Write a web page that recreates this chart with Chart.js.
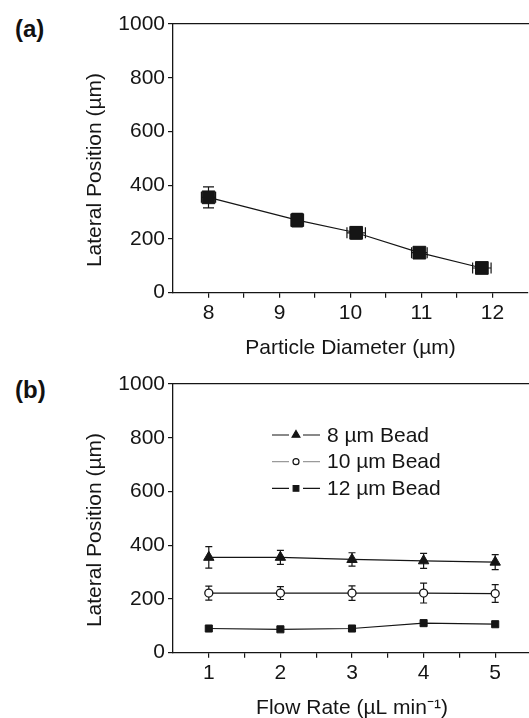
<!DOCTYPE html>
<html lang="en">
<head>
    <meta charset="UTF-8">
    <title>Lateral Position vs Particle Diameter and Flow Rate</title>
    <script src="https://cdn.jsdelivr.net/npm/chart.js"></script>
    <style>
        body {
            margin: 0;
            width: 529px;
            height: 718px;
            overflow: hidden;
            background: #fff;
            position: relative;
            font-family: 'Liberation Sans', Arial, sans-serif;
        }
        canvas {
            position: absolute;
            left: 0;
        }
        #chartA { top: 0; }
        #chartB { top: 360px; }
        .tag {
            position: absolute;
            left: 15px;
            font-weight: bold;
            font-size: 24px;
            line-height: 24px;
            color: #111;
        }
    </style>
</head>
<body>

    <div class="tag" style="top: 17px;">(a)</div>
    <div class="tag" style="top: 378px;">(b)</div>
    <canvas id="chartA" width="538" height="365"></canvas>
    <canvas id="chartB" width="538" height="365"></canvas>

    <script>
        // panel (a): lateral position vs particle diameter
        const diameters = [8.0, 9.25, 10.08, 10.97, 11.85];
        const diameterErr = [0.1, 0.08, 0.13, 0.11, 0.13];
        const positionsA = [355, 270, 223, 149, 92];
        const positionsAErr = [39, 25, 23, 20, 16];

        // panel (b): lateral position vs flow rate
        const flowRates = [1, 2, 3, 4, 5];
        const beadLabels = ['8 \u00b5m Bead', '10 \u00b5m Bead', '12 \u00b5m Bead'];
        const bead8 = [355, 355, 347, 342, 337];
        const bead8Err = [40, 26, 25, 28, 28];
        const bead10 = [222, 222, 222, 222, 220];
        const bead10Err = [26, 24, 27, 37, 33];
        const bead12 = [90, 87, 90, 110, 106];

        // axis ticks (majors get labels, the rest are minor marks)
        const yTicks = [0, 100, 200, 300, 400, 500, 600, 700, 800, 900, 1000];
        const xTicksA = [8, 8.5, 9, 9.5, 10, 10.5, 11, 11.5, 12];
        const xTicksB = [1, 1.5, 2, 2.5, 3, 3.5, 4, 4.5, 5];

        const ink = '#151515';
        const font = { family: "'Liberation Sans', Arial, sans-serif", size: 21 };

        function toPoints(xs, ys) {
            return xs.map((x, i) => ({ x: x, y: ys[i] }));
        }

        // error bars, drawn under the lines and markers
        const errorBars = {
            id: 'errorBars',
            beforeDatasetsDraw(chart) {
                const ctx = chart.ctx;
                const xs = chart.scales.x, ys = chart.scales.y;
                ctx.save();
                ctx.strokeStyle = ink;
                ctx.lineWidth = 1.2;
                chart.data.datasets.forEach(ds => {
                    const cap = ds.capSize || 4;
                    ds.data.forEach((p, i) => {
                        const px = xs.getPixelForValue(p.x);
                        const py = ys.getPixelForValue(p.y);
                        ctx.beginPath();
                        if (ds.yErr && ds.yErr[i]) {
                            const t = ys.getPixelForValue(p.y + ds.yErr[i]);
                            const b = ys.getPixelForValue(p.y - ds.yErr[i]);
                            ctx.moveTo(px, t); ctx.lineTo(px, b);
                            ctx.moveTo(px - cap, t); ctx.lineTo(px + cap, t);
                            ctx.moveTo(px - cap, b); ctx.lineTo(px + cap, b);
                        }
                        if (ds.xErr && ds.xErr[i]) {
                            const l = xs.getPixelForValue(p.x - ds.xErr[i]);
                            const r = xs.getPixelForValue(p.x + ds.xErr[i]);
                            ctx.moveTo(l, py); ctx.lineTo(r, py);
                            ctx.moveTo(l, py - cap); ctx.lineTo(l, py + cap);
                            ctx.moveTo(r, py - cap); ctx.lineTo(r, py + cap);
                        }
                        ctx.stroke();
                    });
                });
                ctx.restore();
            }
        };

        // Origin-style legend: line - marker - line, then the label
        const beadLegend = {
            id: 'beadLegend',
            afterDatasetsDraw(chart) {
                const ctx = chart.ctx;
                const lineCols = [ink, '#9a9a9a', ink];
                const sizes = [4.5, 3, 4];
                chart.data.datasets.forEach((ds, i) => {
                    const y = 75 + i * 26.7;
                    ctx.save();
                    ctx.strokeStyle = lineCols[i];
                    ctx.lineWidth = 1.2;
                    ctx.beginPath();
                    ctx.moveTo(272, y); ctx.lineTo(289, y);
                    ctx.moveTo(303, y); ctx.lineTo(320, y);
                    ctx.stroke();
                    ctx.fillStyle = ds.pointBackgroundColor;
                    ctx.strokeStyle = ink;
                    Chart.helpers.drawPoint(ctx, {
                        pointStyle: ds.pointStyle, radius: sizes[i], rotation: 0, borderWidth: 1.2
                    }, 296, y);
                    ctx.fillStyle = ink;
                    ctx.font = font.size + 'px ' + font.family;
                    ctx.textBaseline = 'middle';
                    ctx.fillText(ds.label, 327, y + 1);
                    ctx.restore();
                });
            }
        };

        function axes(xMin, xMax, xTicks, xTitle) {
            return {
                x: {
                    type: 'linear',
                    position: 'bottom',
                    min: xMin,
                    max: xMax,
                    afterBuildTicks: s => { s.ticks = xTicks.map(v => ({ value: v })); },
                    afterFit: s => { s.height = 72.3; },
                    grid: { drawOnChartArea: false, tickLength: 5, color: ink, lineWidth: 1.2 },
                    border: { color: ink, width: 1.3 },
                    ticks: {
                        color: ink, font: font, padding: 3, maxRotation: 0, autoSkip: false,
                        callback: v => Number.isInteger(v) ? v : ''
                    },
                    title: { display: true, text: xTitle, color: ink, font: font, padding: { top: 0, bottom: 4 } }
                },
                xTop: {
                    type: 'linear',
                    position: 'top',
                    afterFit: s => { s.height = 0; },
                    grid: { display: false },
                    border: { color: ink, width: 1.3 },
                    ticks: { display: false }
                },
                y: {
                    type: 'linear',
                    min: 0,
                    max: 1000,
                    afterBuildTicks: s => { s.ticks = yTicks.map(v => ({ value: v })); },
                    afterFit: s => { s.width = 173; },
                    grid: { drawOnChartArea: false, tickLength: 5, color: ink, lineWidth: 1.2 },
                    border: { color: ink, width: 1.3 },
                    ticks: {
                        color: ink, font: font, padding: 3,
                        callback: v => v % 200 === 0 ? v : ''
                    },
                    // trailing spaces nudge the label a little below centre, as in the original
                    title: {
                        display: true, text: 'Lateral Position (\u00b5m)    ', color: ink, font: font,
                        padding: { top: 83, bottom: 0 }
                    }
                }
            };
        }

        const common = {
            responsive: false,
            animation: false,
            devicePixelRatio: 1,
            layout: { padding: { top: 24, left: 0, right: 0, bottom: 0 } },
            plugins: { legend: { display: false }, tooltip: { enabled: false } }
        };

        new Chart(document.getElementById('chartA'), {
            type: 'line',
            data: {
                datasets: [{
                    label: 'Particle diameter',
                    data: toPoints(diameters, positionsA),
                    xErr: diameterErr,
                    yErr: positionsAErr,
                    capSize: 5.5,
                    borderColor: ink,
                    borderWidth: 1.2,
                    tension: 0,
                    pointStyle: 'rect',
                    pointRadius: 9,
                    pointBackgroundColor: ink,
                    pointBorderColor: ink,
                    pointBorderWidth: 1
                }]
            },
            options: Object.assign({}, common, {
                scales: axes(7.5, 12.5, xTicksA, 'Particle Diameter (\u00b5m)')
            }),
            plugins: [errorBars]
        });

        new Chart(document.getElementById('chartB'), {
            type: 'line',
            data: {
                datasets: [{
                    label: beadLabels[0],
                    data: toPoints(flowRates, bead8),
                    yErr: bead8Err,
                    capSize: 3.5,
                    borderColor: ink,
                    borderWidth: 1.2,
                    tension: 0,
                    pointStyle: 'triangle',
                    pointRadius: 6,
                    pointBackgroundColor: ink,
                    pointBorderColor: ink,
                    pointBorderWidth: 1
                }, {
                    label: beadLabels[1],
                    data: toPoints(flowRates, bead10),
                    yErr: bead10Err,
                    capSize: 3.5,
                    borderColor: ink,
                    borderWidth: 1.2,
                    tension: 0,
                    pointStyle: 'circle',
                    pointRadius: 4,
                    pointBackgroundColor: '#fff',
                    pointBorderColor: ink,
                    pointBorderWidth: 1.3
                }, {
                    label: beadLabels[2],
                    data: toPoints(flowRates, bead12),
                    borderColor: ink,
                    borderWidth: 1.2,
                    tension: 0,
                    pointStyle: 'rect',
                    pointRadius: 5,
                    pointBackgroundColor: ink,
                    pointBorderColor: ink,
                    pointBorderWidth: 1
                }]
            },
            options: Object.assign({}, common, {
                scales: axes(0.5, 5.5, xTicksB, 'Flow Rate (\u00b5L min\u207b\u00b9)')
            }),
            plugins: [errorBars, beadLegend]
        });
    </script>

</body>
</html>
